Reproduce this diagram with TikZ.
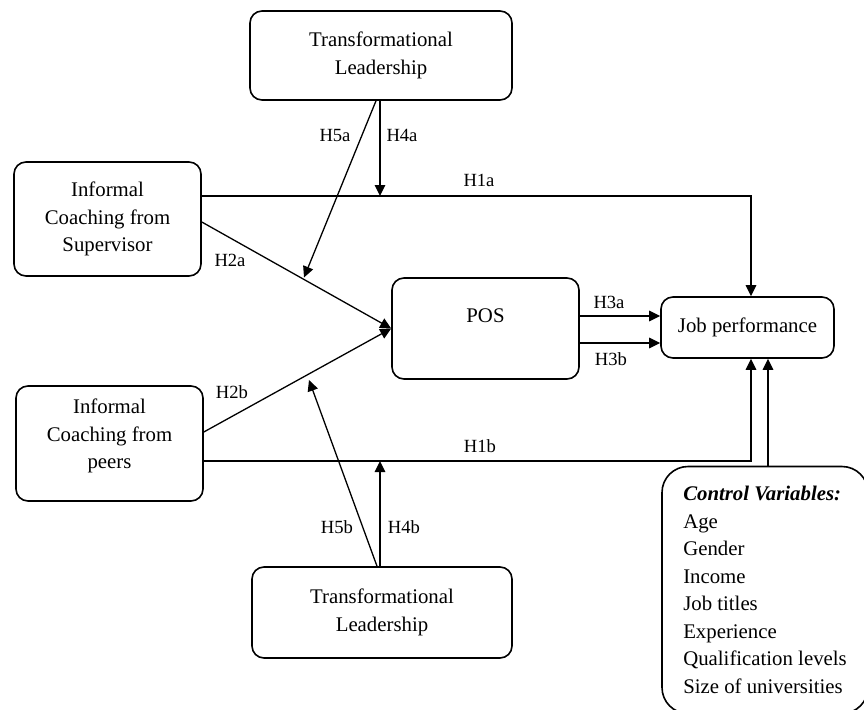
\documentclass[tikz,border=0pt]{standalone}
\usepackage{fontspec}
\setmainfont{Liberation Serif}
\usetikzlibrary{arrows.meta}

\tikzset{
  box/.style={draw, line width=1.6pt, rounded corners=12pt, align=center, inner sep=0pt},
  link/.style={line width=1.3pt, -{Triangle[length=11pt,width=10.5pt]}},
  hyp/.style={font=\fontsize{18.6}{22}\selectfont, inner sep=0pt},
}

\begin{document}
\begin{tikzpicture}[x=1pt, y=-1pt, font=\fontsize{20.8}{27.5}\selectfont]
  \clip (0,0) rectangle (864,709);

  % boxes
  \node[box, minimum width=262pt, minimum height=89pt] (tlTop) at (381,55.5) {Transformational\\Leadership};
  \node[box, minimum width=260pt, minimum height=91pt] (tlBot) at (382,612.5) {Transformational\\Leadership};
  \node[box, minimum width=187pt, minimum height=114pt] (sup) at (107.5,219) {Informal\\Coaching from\\Supervisor};
  \node[box, minimum width=187pt, minimum height=115pt,
        label={[align=center, yshift=7.5pt]center:Informal\\Coaching from\\peers}] (peers) at (109.5,443.5) {};
  \node[box, minimum width=187pt, minimum height=101pt,
        label={[yshift=12.5pt]center:POS}] (pos) at (485.5,328.5) {};
  \node[box, minimum width=173pt, minimum height=61pt] (job) at (747.5,327.5) {Job performance};
  \node[box, rounded corners=26pt, align=left, minimum width=206pt, minimum height=247pt] (cv) at (765,590)
    {\textbf{\textit{Control Variables:}}\\Age\\Gender\\Income\\Job titles\\Experience\\Qualification levels\\Size of universities};

  % meeting points of the moderator arrows
  \coordinate (m4a) at (380,196);
  \coordinate (m4b) at (380,461);
  \coordinate (m5a) at (304,277.5);
  \coordinate (m5b) at (309,380);

  % paths
  \draw[link] (sup.east |- m4a) -| ([xshift=3.5pt]job.north);
  \draw[link] (peers.east |- m4b) -| ([xshift=3.5pt]job.south);
  \draw[link] ([yshift=-3pt]sup.east) -- (pos.west);
  \draw[link] ([yshift=11.5pt]peers.east) -- (pos.west);
  \draw[link] ([yshift=12.5pt]pos.east) -- ([yshift=12.5pt]pos.east -| job.west);
  \draw[link] ([yshift=-14.5pt]pos.east) -- ([yshift=-14.5pt]pos.east -| job.west);
  \draw[link] (tlTop.south -| m4a) -- (m4a);
  \draw[link] ([xshift=-5pt]tlTop.south) -- (m5a);
  \draw[link] (tlBot.north -| m4b) -- (m4b);
  \draw[link] ([xshift=-5pt]tlBot.north) -- (m5b);
  \draw[link] ([xshift=3pt]cv.north) -- ([xshift=3pt]cv.north |- job.south);

  % hypothesis labels
  \node[hyp] (h1a) at (479,180) {H1a};
  \node[hyp] (h1b) at (480,446) {H1b};
  \node[hyp] (h2a) at (230,260) {H2a};
  \node[hyp] (h2b) at (232,392) {H2b};
  \node[hyp] (h3a) at (609,302) {H3a};
  \node[hyp] (h3b) at (611,359) {H3b};
  \node[hyp] (h4a) at (402,135) {H4a};
  \node[hyp] (h4b) at (404,527) {H4b};
  \node[hyp] (h5a) at (335,135) {H5a};
  \node[hyp] (h5b) at (337,527) {H5b};
\end{tikzpicture}
\end{document}
